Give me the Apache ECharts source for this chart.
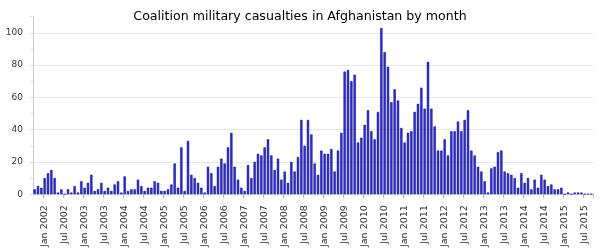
<!DOCTYPE html>
<html><head><meta charset="utf-8">
<script src="https://cdn.jsdelivr.net/npm/echarts@6/dist/echarts.min.js"></script>
<style>html,body{margin:0;padding:0;background:#fff}#c{width:600px;height:250px}</style>
</head><body><div id="c"></div>
<script>
const chartTitle = 'Coalition military casualties in Afghanistan by month';
const monthNames = ['Jan','Feb','Mar','Apr','May','Jun','Jul','Aug','Sep','Oct','Nov','Dec'];
const firstYear = 2001;
const firstMonthIndex = 9; // October 2001
const deaths2001 = [3,5,4];
const deaths2002 = [10,13,15,10,1,3,0,3,1,5,1,8];
const deaths2003 = [4,7,12,2,3,7,2,4,2,6,8,1];
const deaths2004 = [11,2,3,3,9,5,2,4,4,8,7,2];
const deaths2005 = [2,3,6,19,4,29,2,33,12,10,7,4];
const deaths2006 = [1,17,13,5,17,22,19,29,38,17,9,4];
const deaths2007 = [2,18,10,20,25,24,29,34,24,15,22,9];
const deaths2008 = [14,7,20,14,23,46,30,46,37,19,12,27];
const deaths2009 = [25,25,28,14,27,38,76,77,70,74,32,35];
const deaths2010 = [43,52,39,34,51,103,88,79,57,65,58,41];
const deaths2011 = [32,38,39,51,56,66,53,82,53,42,27,27];
const deaths2012 = [34,24,39,39,45,39,46,52,27,24,17,14];
const deaths2013 = [8,1,16,17,26,27,14,13,12,10,4,13];
const deaths2014 = [7,10,3,9,4,12,9,5,6,3,3,4];
const deaths2015 = [0,1,0,1,1,1,0,0,0];
const yearlyDeaths = [deaths2001,deaths2002,deaths2003,deaths2004,deaths2005,deaths2006,deaths2007,deaths2008,deaths2009,deaths2010,deaths2011,deaths2012,deaths2013,deaths2014,deaths2015];
const yTickLabels = [0,20,40,60,80,100];
const labelledMonths = ['Jan','Jul'];

const categories = [];
const values = [];
yearlyDeaths.forEach(function (arr, k) {
  const year = firstYear + k;
  const m0 = k === 0 ? firstMonthIndex : 0;
  arr.forEach(function (v, j) {
    categories.push(monthNames[m0 + j] + ' ' + year);
    values.push(v);
  });
});

const isLabelled = function (index, value) {
  return labelledMonths.indexOf(String(value).slice(0, 3)) >= 0;
};

const font = 'DejaVu Sans';
const chart = echarts.init(document.getElementById('c'), null, {renderer: 'canvas'});
chart.setOption({
  animation: false,
  title: {
    text: chartTitle, left: 'center', top: 5,
    textStyle: {fontFamily: font, fontSize: 12.6, fontWeight: 'normal', color: '#000'}
  },
  grid: {left: 33, right: 7, top: 16.7, bottom: 50, containLabel: false},
  xAxis: {
    type: 'category', data: categories, boundaryGap: true,
    axisLine: {lineStyle: {color: '#d0d0d0', width: 1}},
    axisTick: {show: true, interval: isLabelled, length: 4, lineStyle: {color: '#bbb'}},
    axisLabel: {interval: isLabelled, rotate: 90, fontSize: 9.5, color: '#333', margin: 11, fontFamily: font}
  },
  yAxis: {
    type: 'value', min: 0, max: 110, interval: 20,
    axisLine: {show: true, lineStyle: {color: '#ccc'}},
    axisTick: {show: true, length: 4, lineStyle: {color: '#e0e0e0'}},
    minorTick: {show: true, splitNumber: 2, length: 3, lineStyle: {color: '#e0e0e0'}},
    splitLine: {show: true, lineStyle: {color: ['#e8e8e8','#e8e8e8','#e8e8e8','#e8e8e8','#e8e8e8','#e8e8e8','rgba(0,0,0,0)'], width: 1}},
    axisLabel: {
      fontSize: 9, color: '#333', margin: 10, fontFamily: font,
      formatter: function (v) { return yTickLabels.indexOf(v) >= 0 ? String(v) : ''; }
    }
  },
  series: [{
    type: 'bar', data: values, barCategoryGap: '30%',
    itemStyle: {color: '#3030d0', borderColor: '#00008b', borderWidth: 0.5}
  }]
});
</script></body></html>
